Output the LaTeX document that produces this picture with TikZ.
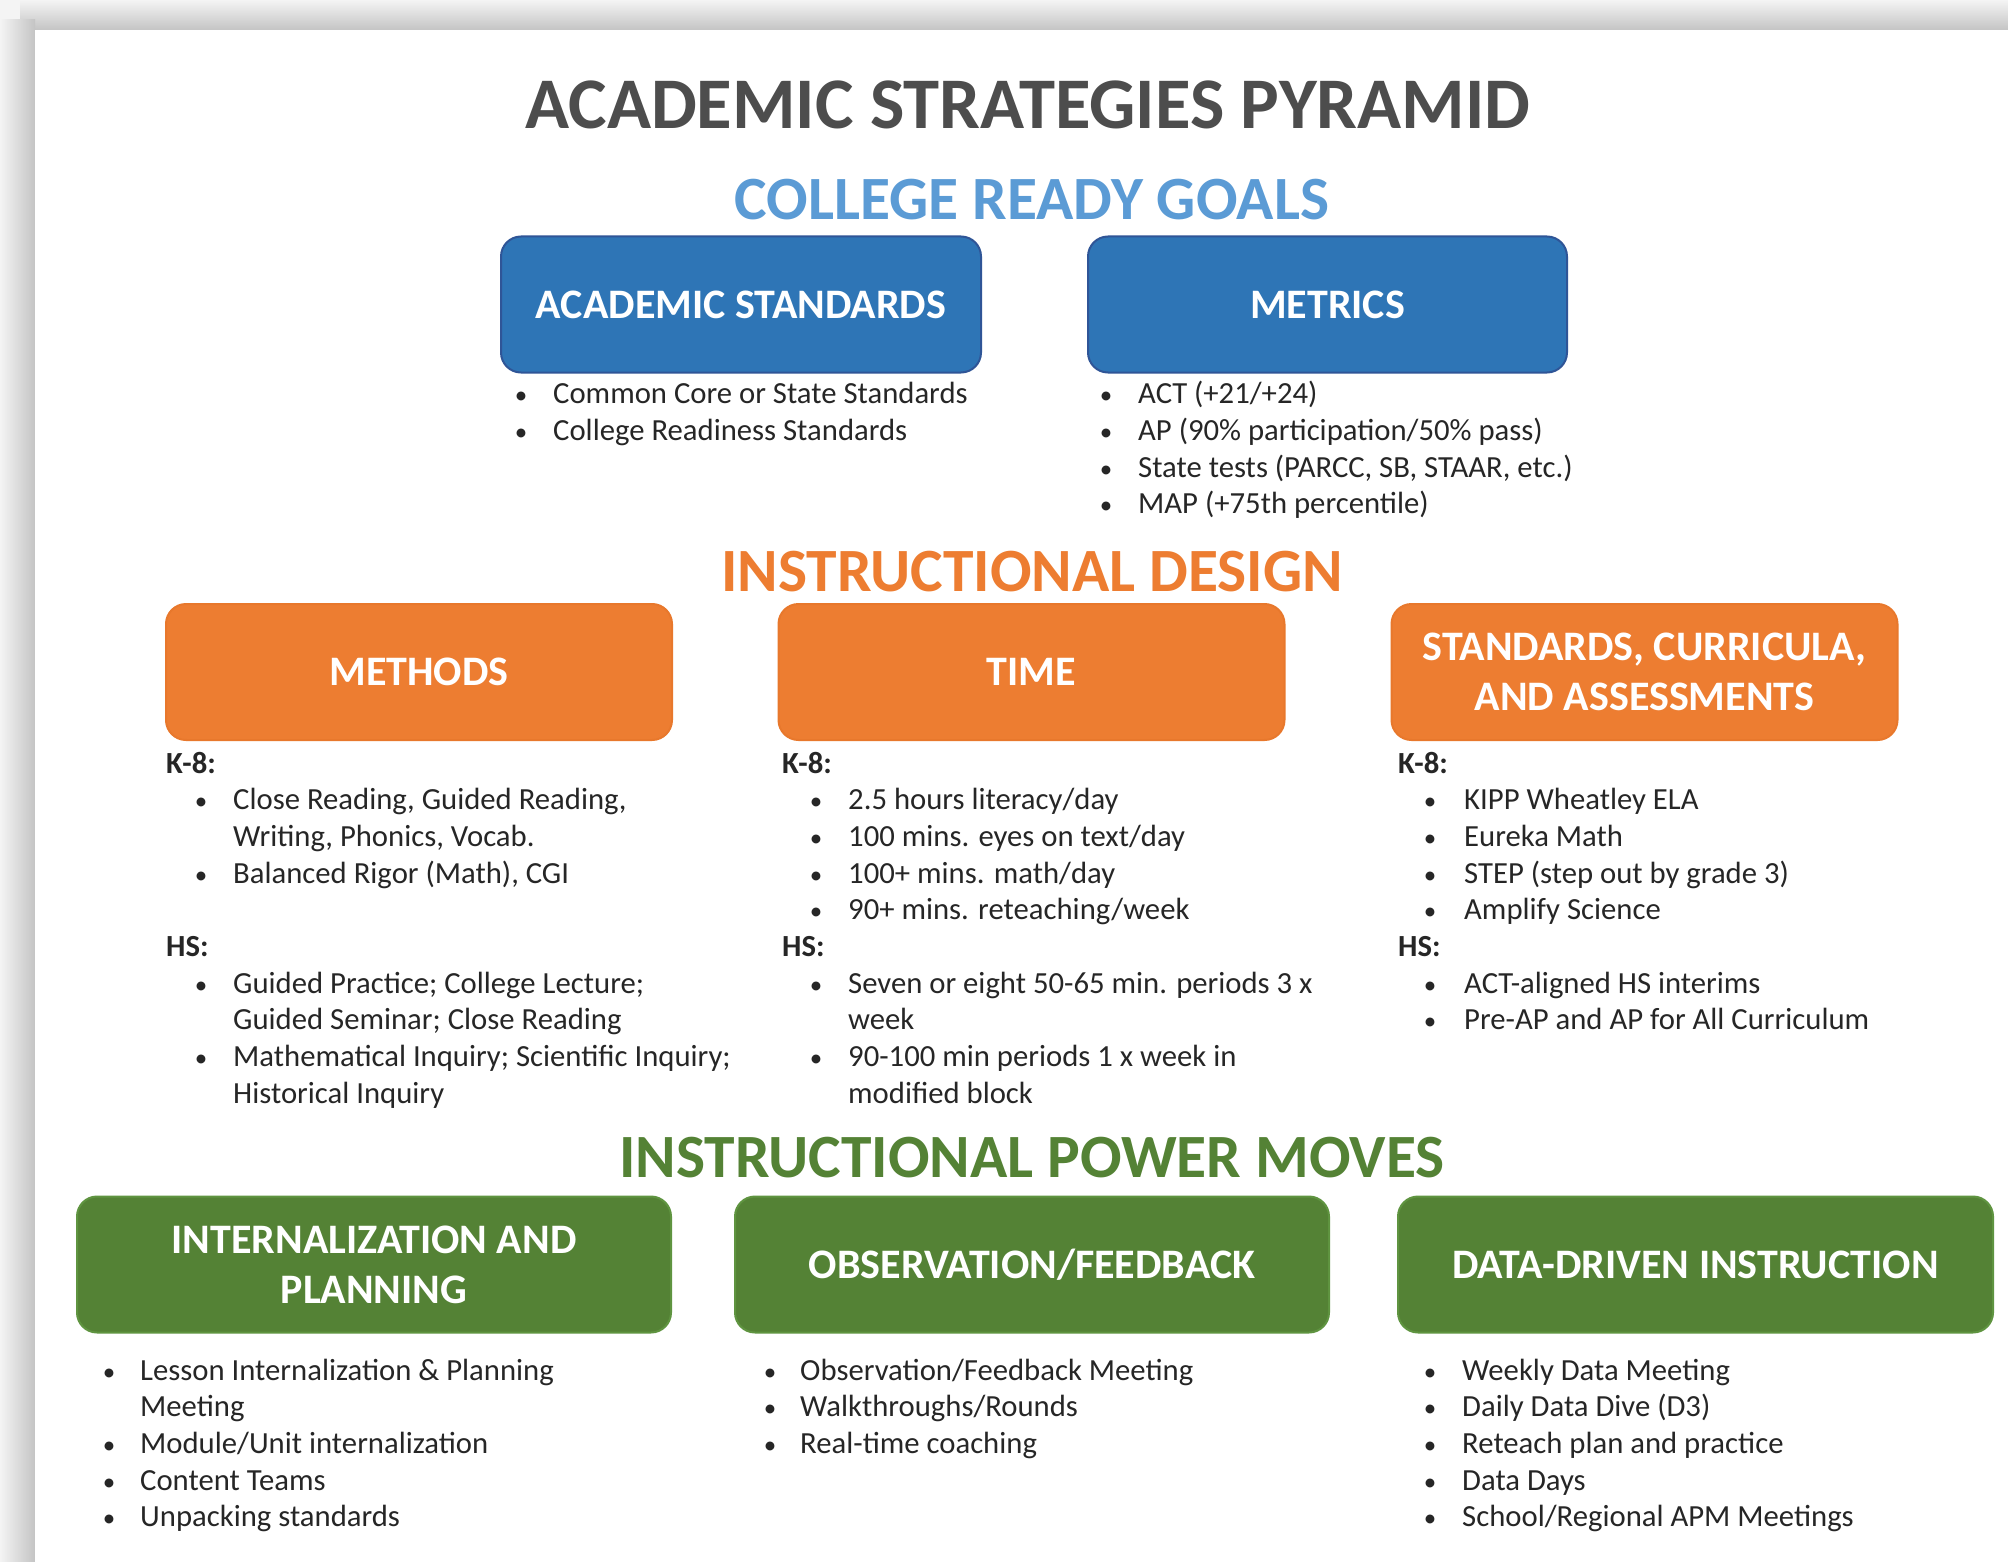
\documentclass[tikz,border=0pt]{standalone}
\usepackage{fontspec}
\setmainfont{Carlito}
\definecolor{titlegray}{HTML}{4D4D4D}
\definecolor{hblue}{HTML}{5B9BD5}
\definecolor{horange}{HTML}{ED7D31}
\definecolor{hgreen}{HTML}{548235}
\definecolor{bblue}{HTML}{2E75B6}
\definecolor{bblueedge}{HTML}{2F5597}
\definecolor{borange}{HTML}{ED7D31}
\definecolor{borangeedge}{HTML}{E8782C}
\definecolor{bgreen}{HTML}{548235}
\definecolor{bgreenedge}{HTML}{5F9440}
\definecolor{bodytext}{HTML}{262626}
\definecolor{shadelight}{HTML}{F4F4F4}
\definecolor{shadedark}{HTML}{C4C4C4}
\newcommand\myBul[5]{%
  \node[bulletmark] (#1b) at (#2,#4) {•};
  \node[bodyline] (#1) at (#3,#4) {#5};}
\newcommand\myTxt[4]{%
  \node[bodyline] (#1) at (#2,#3) {#4};}
\begin{document}
\begin{tikzpicture}[x=1pt,y=-1pt,
  bodyline/.style={anchor=base west,inner sep=0pt,text=bodytext,font=\fontsize{30.7}{37}\selectfont},
  bulletmark/.style={anchor=base,inner sep=0pt,text=bodytext,font=\fontsize{25}{37}\selectfont},
  labelline/.style={anchor=base west,inner sep=0pt,text=bodytext,font=\bfseries\fontsize{30.7}{37}\selectfont},
  heading/.style={inner sep=0pt,font=\bfseries\fontsize{61.5}{70}\selectfont},
  boxbase/.style={rectangle,rounded corners=20pt,line width=2pt,text=white,align=center,
    font=\bfseries\fontsize{42}{50}\selectfont,minimum height=136pt},
  bluebox/.style={boxbase,fill=bblue,draw=bblueedge},
  orangebox/.style={boxbase,fill=borange,draw=borangeedge},
  greenbox/.style={boxbase,fill=bgreen,draw=bgreenedge}]
\useasboundingbox (0,0) rectangle (2008,1562);
% page and shadow
\fill[shadelight] (0,0) rectangle (2008,1562);
\shade[top color=shadelight,bottom color=shadedark] (20,0) rectangle (2008,30);
\shade[left color=shadelight,right color=shadedark] (0,20) rectangle (35,1562);
\fill[white] (35,30) rectangle (2008,1562);
% title and headings
\node[inner sep=0pt,text=titlegray,font=\bfseries\fontsize{72.7}{80}\selectfont] (title) at (1028,105) {ACADEMIC STRATEGIES PYRAMID};
\node[heading,text=hblue] (goals) at (1032,200) {COLLEGE READY GOALS};
\node[heading,text=horange] (design) at (1032,572) {INSTRUCTIONAL DESIGN};
\node[heading,text=hgreen] (power) at (1032,1158) {INSTRUCTIONAL POWER MOVES};
% blue boxes
\node[bluebox,minimum width=480pt] (acad) at (741,304.5) {ACADEMIC STANDARDS};
\node[bluebox,minimum width=479pt] (metrics) at (1327.5,304.5) {METRICS};
\myBul{a1}{521}{553}{403}{Common Core or State Standards}
\myBul{a2}{521}{553}{440}{College Readiness Standards}
\myBul{m1}{1106}{1138}{403}{ACT (+21/+24)}
\myBul{m2}{1106}{1138}{440}{AP (90\% participation/50\% pass)}
\myBul{m3}{1106}{1138}{477}{State tests (PARCC, SB, STAAR, etc.)}
\myBul{m4}{1106}{1138}{513}{MAP (+75th percentile)}
% orange boxes
\node[orangebox,minimum width=506pt] (methods) at (419,672) {METHODS};
\node[orangebox,minimum width=506pt] (time) at (1031.5,672) {TIME};
\node[orangebox,minimum width=506pt] (stds) at (1644.5,672) {STANDARDS, CURRICULA,\\AND ASSESSMENTS};
% methods column
\node[labelline] (mk8) at (166,773) {K-8:};
\myBul{me1}{201}{233}{809.7}{Close Reading, Guided Reading,}
\myTxt{me1b}{233}{846.3}{Writing, Phonics, Vocab.}
\myBul{me2}{201}{233}{883}{Balanced Rigor (Math), CGI}
\node[labelline] (mhs) at (166,956.3) {HS:};
\myBul{me3}{201}{233}{993}{Guided Practice; College Lecture;}
\myTxt{me3b}{233}{1029.6}{Guided Seminar; Close Reading}
\myBul{me4}{201}{233}{1066.3}{Mathematical Inquiry; Scientific Inquiry;}
\myTxt{me4b}{233}{1103}{Historical Inquiry}
% time column
\node[labelline] (tk8) at (782,773) {K-8:};
\myBul{t1}{816}{848}{809.7}{2.5 hours literacy/day}
\myBul{t2}{816}{848}{846.3}{100 mins. eyes on text/day}
\myBul{t3}{816}{848}{883}{100+ mins. math/day}
\myBul{t4}{816}{848}{919.6}{90+ mins. reteaching/week}
\node[labelline] (ths) at (782,956.3) {HS:};
\myBul{t5}{816}{848}{993}{Seven or eight 50-65 min. periods 3 x}
\myTxt{t5b}{848}{1029.6}{week}
\myBul{t6}{816}{848}{1066.3}{90-100 min periods 1 x week in}
\myTxt{t6b}{848}{1103}{modified block}
% standards column
\node[labelline] (sk8) at (1398,773) {K-8:};
\myBul{s1}{1430}{1464}{809.7}{KIPP Wheatley ELA}
\myBul{s2}{1430}{1464}{846.3}{Eureka Math}
\myBul{s3}{1430}{1464}{883}{STEP (step out by grade 3)}
\myBul{s4}{1430}{1464}{919.6}{Amplify Science}
\node[labelline] (shs) at (1398,956.3) {HS:};
\myBul{s5}{1430}{1464}{993}{ACT-aligned HS interims}
\myBul{s6}{1430}{1464}{1029.6}{Pre-AP and AP for All Curriculum}
% green boxes
\node[greenbox,minimum width=594pt] (intern) at (374,1264.5) {INTERNALIZATION AND\\PLANNING};
\node[greenbox,minimum width=594pt] (obs) at (1032,1264.5) {OBSERVATION/FEEDBACK};
\node[greenbox,minimum width=595pt] (ddi) at (1695.5,1264.5) {DATA-DRIVEN INSTRUCTION};
\myBul{i1}{109}{140}{1380}{Lesson Internalization \& Planning}
\myTxt{i1b}{140}{1416.7}{Meeting}
\myBul{i2}{109}{140}{1453.4}{Module/Unit internalization}
\myBul{i3}{109}{140}{1490.1}{Content Teams}
\myBul{i4}{109}{140}{1526.8}{Unpacking standards}
\myBul{o1}{770}{800}{1380}{Observation/Feedback Meeting}
\myBul{o2}{770}{800}{1416.7}{Walkthroughs/Rounds}
\myBul{o3}{770}{800}{1453.4}{Real-time coaching}
\myBul{d1}{1430}{1462}{1380}{Weekly Data Meeting}
\myBul{d2}{1430}{1462}{1416.7}{Daily Data Dive (D3)}
\myBul{d3}{1430}{1462}{1453.4}{Reteach plan and practice}
\myBul{d4}{1430}{1462}{1490.1}{Data Days}
\myBul{d5}{1430}{1462}{1526.8}{School/Regional APM Meetings}
\end{tikzpicture}
\end{document}
